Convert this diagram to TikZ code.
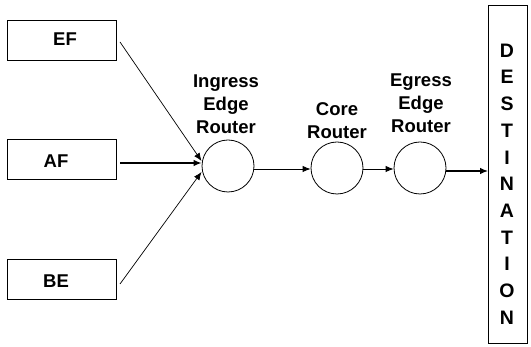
\documentclass[tikz,border=0pt]{standalone}
\usepackage{fontspec}
\setmainfont{Liberation Sans}
\usetikzlibrary{arrows.meta}
\begin{document}
\begin{tikzpicture}[x=1pt,y=-1pt,
  src/.style={draw,line width=0.9pt,minimum width=109pt,minimum height=40pt,inner sep=0pt},
  rtr/.style={draw,circle,line width=0.8pt,minimum size=52pt,inner sep=0pt},
  lbl/.style={font=\fontsize{18.5}{23}\selectfont\bfseries,align=center},
  conn/.style={-{Latex[length=8pt,width=6.5pt]},line width=0.9pt}]
\useasboundingbox (0,0) rectangle (531,347);
\node[src] (ef) at (61.5,40) {};
\node[src] (af) at (61.5,159) {};
\node[src] (be) at (61.5,279) {};
\node[lbl] (eft) at (65,39) {EF};
\node[lbl] (aft) at (56,161) {AF};
\node[lbl] (bet) at (56,281) {BE};
\node[rtr] (ing) at (228,166) {};
\node[rtr] (core) at (337,168) {};
\node[rtr] (egr) at (420,168) {};
\node[lbl] (ingt) at (226,104) {Ingress\\Edge\\Router};
\node[lbl] (coret) at (337,121) {Core\\Router};
\node[lbl] (egrt) at (421,103) {Egress\\Edge\\Router};
\node[draw,line width=0.9pt,minimum width=39pt,minimum height=338pt,inner sep=0pt] (dest) at (508,174) {};
\node[lbl,font=\fontsize{19.5}{26.7}\selectfont\bfseries] (destt) at (507,184) {D\\E\\S\\T\\I\\N\\A\\T\\I\\O\\N};
\coordinate (efo) at (120,42);
\coordinate (afo) at (120,163);
\coordinate (beo) at (120,284);
\coordinate (cin) at ([yshift=-1pt]core.west);
\coordinate (ein) at ([yshift=-1pt]egr.west);
\draw[conn,line width=0.7pt] (efo) -- (201.5,161);
\draw[conn,line width=1.3pt] (afo) -- (ing.west |- afo);
\draw[conn,line width=0.7pt] (beo) -- (201.5,172);
\draw[conn] (ing.east |- cin) -- (cin);
\draw[conn] (core.east |- ein) -- (ein);
\draw[conn,line width=1.3pt] (egr.east |- 0,171) -- (dest.west |- 0,171);
\end{tikzpicture}
\end{document}
